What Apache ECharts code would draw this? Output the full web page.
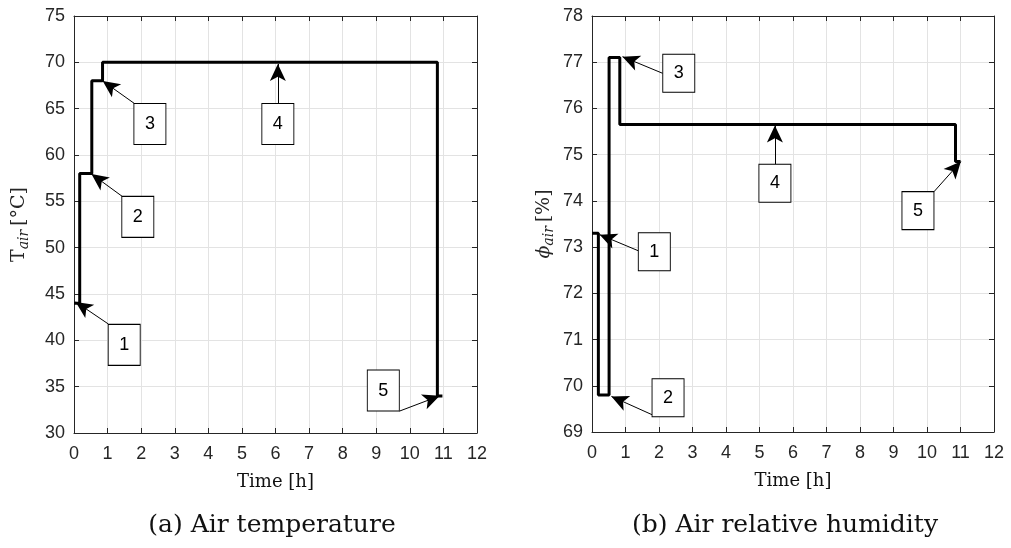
<!DOCTYPE html>
<html><head><meta charset="utf-8">
<script src="https://cdn.jsdelivr.net/npm/echarts@6.0.0/dist/echarts.min.js"></script>
<style>html,body{margin:0;padding:0;background:#fff}#c{width:1011px;height:548px}</style>
</head><body><div id="c"></div>
<script>
// ---- data ----
const xTicks = [0,1,2,3,4,5,6,7,8,9,10,11,12];
const tempTime = [0, 0.17, 0.17, 0.53, 0.53, 0.85, 0.85, 10.82, 10.82, 10.97];
const tempVal  = [44, 44, 58, 58, 68, 68, 70, 70, 34, 34];
const humTime  = [0, 0.19, 0.19, 0.51, 0.51, 0.83, 0.83, 10.85, 10.85, 11.0];
const humVal   = [73.3, 73.3, 69.8, 69.8, 77.1, 77.1, 75.65, 75.65, 74.85, 74.85];
const annLabels = ['1','2','3','4','5'];
// annotation anchors in data units: box centre, arrow start, arrow tip
const tempBox  = [[1.495,39.51],[1.90,53.32],[2.26,63.35],[6.07,63.35],[9.21,34.58]];
const tempFrom = [[1.02,41.77],[1.43,55.55],[1.79,65.58],[6.07,65.58],[9.69,32.36]];
const tempTo   = [[0.05,44.15],[0.52,57.96],[0.855,67.99],[6.07,69.82],[10.89,34.01]];
const humBox   = [[1.86,72.90],[2.27,69.74],[2.59,76.76],[5.46,74.38],[9.73,73.79]];
const humFrom  = [[1.385,72.92],[1.79,69.375],[2.11,76.76],[5.46,74.79],[10.21,74.20]];
const humTo    = [[0.23,73.27],[0.58,69.77],[0.91,77.12],[5.46,75.63],[11.01,74.85]];

const AX = '#262626', GRID = '#e3e3e3';
const SANS = 'Liberation Sans, Arial, sans-serif';
const SERIF = 'DejaVu Serif, Liberation Serif, serif';

function xAxes(g){
  const base = {type:'value', gridIndex:g, min:0, max:12, interval:1,
    axisLine:{show:true, onZero:false, lineStyle:{color:AX,width:1}},
    axisTick:{show:true, inside:true, length:5, lineStyle:{color:AX}}};
  return [
    Object.assign({}, base, {position:'bottom',
      axisLabel:{color:AX, fontSize:18, fontFamily:SANS, margin:12},
      splitLine:{show:true, lineStyle:{color:GRID,width:1}},
      name:'Time [h]', nameLocation:'middle', nameGap:40,
      nameTextStyle:{color:'#111', fontSize:18, fontFamily:SERIF}}),
    Object.assign({}, base, {position:'top', axisLabel:{show:false}, splitLine:{show:false}})
  ];
}
function yAxes(g, min, max, interval, name, gap){
  const base = {type:'value', gridIndex:g, min:min, max:max, interval:interval,
    axisLine:{show:true, onZero:false, lineStyle:{color:AX,width:1}},
    axisTick:{show:true, inside:true, length:5, lineStyle:{color:AX}}};
  return [
    Object.assign({}, base, {position:'left',
      axisLabel:{color:AX, fontSize:18, fontFamily:SANS, margin:9},
      splitLine:{show:true, lineStyle:{color:GRID,width:1}},
      name:name, nameLocation:'middle', nameGap:gap,
      nameTextStyle:{color:AX, fontFamily:SERIF, rich:{
        m:{fontSize:19, fontFamily:SERIF, color:AX, lineHeight:23},
        i:{fontSize:19, fontFamily:SERIF, fontStyle:'italic', color:AX, lineHeight:23},
        s:{fontSize:14, fontFamily:SERIF, fontStyle:'italic', color:AX, lineHeight:23, verticalAlign:'bottom', padding:[8,0,0,0]}
      }}}),
    Object.assign({}, base, {position:'right', axisLabel:{show:false}, splitLine:{show:false}})
  ];
}
function annotations(boxes, froms, tos, boxH){
  return {
    markLine:{silent:true, animation:false, symbol:['none','arrow'], symbolSize:[12,17],
      lineStyle:{color:'#000', width:1, type:'solid'}, label:{show:false},
      emphasis:{disabled:true},
      data: froms.map((f,i)=>[{coord:f},{coord:tos[i]}])},
    markPoint:{silent:true, animation:false, symbol:'rect', symbolSize:[32,boxH],
      itemStyle:{color:'#fff', borderColor:'#000', borderWidth:1},
      label:{show:true, formatter:'{b}', color:'#000', fontSize:18, fontFamily:SANS},
      data: boxes.map((b,i)=>({name:annLabels[i], coord:b}))}
  };
}
const chart = echarts.init(document.getElementById('c'), null, {renderer:'canvas'});
const xs = xAxes(0).concat(xAxes(1));
const ys = yAxes(0,30,75,5,'{m|T}{s|air} {m|[°C]}',43).concat(yAxes(1,69,78,1,'{i|ϕ}{s|air} {m|[%]}',36));
chart.setOption({
  animation:false,
  backgroundColor:'#fff',
  title:[
    {text:'(a) Air temperature', left:267, top:508, textAlign:'center',
     textStyle:{fontFamily:SERIF, fontWeight:'normal', fontSize:25, color:'#111'}},
    {text:'(b) Air relative humidity', left:780, top:508, textAlign:'center',
     textStyle:{fontFamily:SERIF, fontWeight:'normal', fontSize:25, color:'#111'}}
  ],
  grid:[
    {left:74, top:16, width:403, height:417},
    {left:592, top:16, width:402, height:416}
  ],
  xAxis: xs,
  yAxis: ys,
  series:[
    Object.assign({type:'line', xAxisIndex:0, yAxisIndex:0, symbol:'none', z:3,
      lineStyle:{color:'#000', width:3}, itemStyle:{color:'#000'},
      data: tempTime.map((t,i)=>[t,tempVal[i]])}, annotations(tempBox,tempFrom,tempTo,41)),
    Object.assign({type:'line', xAxisIndex:2, yAxisIndex:2, symbol:'none', z:3,
      lineStyle:{color:'#000', width:3}, itemStyle:{color:'#000'},
      data: humTime.map((t,i)=>[t,humVal[i]])}, annotations(humBox,humFrom,humTo,38))
  ]
});
</script></body></html>
